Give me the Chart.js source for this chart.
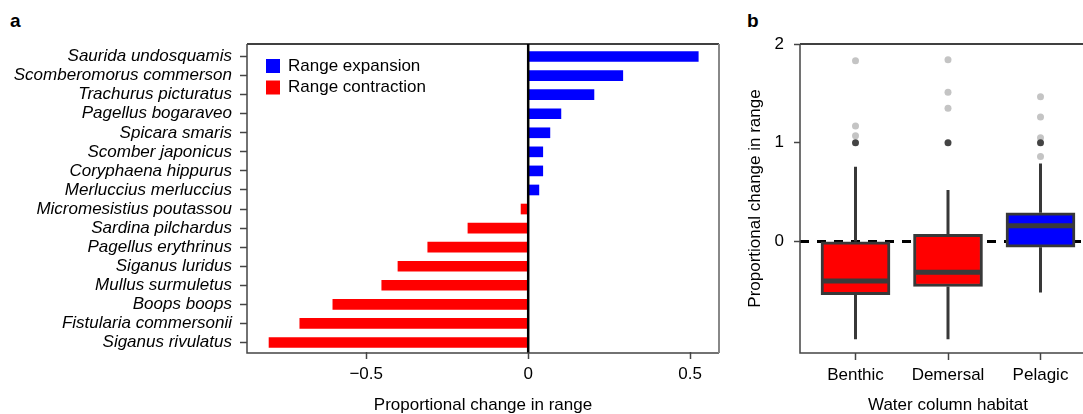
<!DOCTYPE html>
<html>
<head>
<meta charset="utf-8">
<script src="https://cdn.jsdelivr.net/npm/chart.js@4.4.0/dist/chart.umd.min.js"></script>
<style>
  html, body { margin: 0; padding: 0; background: #fff; overflow: hidden; }
  #wrap { position: relative; width: 1083px; height: 414px; overflow: hidden; font-family: "Liberation Sans", Arial, sans-serif; }
  #boxA { position: absolute; left: 0; top: 0; width: 730px; height: 414px; }
  #boxB { position: absolute; left: 740px; top: 0; width: 360px; height: 414px; }
  .tag { position: absolute; font-weight: bold; font-size: 19px; line-height: 19px; color: #000; }
</style>
</head>
<body>
<div id="wrap">
  <div class="tag" style="left:10px;top:11px">a</div>
  <div class="tag" style="left:747px;top:11px">b</div>
  <div id="boxA"><canvas id="chartA" width="730" height="414"></canvas></div>
  <div id="boxB"><canvas id="chartB" width="360" height="414"></canvas></div>
</div>
<script>
// ---- Panel a: proportional change in range per species ----
const species = [
  'Saurida undosquamis', 'Scomberomorus commerson', 'Trachurus picturatus',
  'Pagellus bogaraveo', 'Spicara smaris', 'Scomber japonicus',
  'Coryphaena hippurus', 'Merluccius merluccius', 'Micromesistius poutassou',
  'Sardina pilchardus', 'Pagellus erythrinus', 'Siganus luridus',
  'Mullus surmuletus', 'Boops boops', 'Fistularia commersonii', 'Siganus rivulatus'
];
const rangeChange = [0.525, 0.292, 0.203, 0.101, 0.067, 0.045, 0.045, 0.033,
  -0.022, -0.186, -0.31, -0.402, -0.452, -0.603, -0.705, -0.80];
const xTicksA = [-0.5, 0, 0.5];
const seriesNames = ['Range expansion', 'Range contraction'];
const seriesColors = ['#0000ff', '#ff0000'];

// ---- Panel b: box summaries by water column habitat ----
const habitats = ['Benthic', 'Demersal', 'Pelagic'];
const boxLower = [-0.54, -0.456, -0.058];
const boxMedian = [-0.40, -0.311, 0.158];
const boxUpper = [0.0, 0.071, 0.29];
const whiskerLow = [-0.99, -0.99, -0.517];
const whiskerHigh = [0.756, 0.52, 0.79];
const pointsLight = [[1.07, 1.17, 1.83], [1.35, 1.51, 1.84], [0.86, 1.05, 1.26, 1.465]];
const pointsDark = [[1.0], [1.0], [1.0]];
const boxFill = ['#ff0000', '#ff0000', '#0000ff'];
const yTicksB = [0, 1, 2];

Chart.defaults.font.family = '"Liberation Sans", Arial, sans-serif';
Chart.defaults.color = '#000';

const fmt = v => (v < 0 ? '\u2212' + Math.abs(v) : String(v));

const frameA = {
  id: 'frameA',
  afterDatasetsDraw(chart) {
    const { ctx, chartArea: a, scales } = chart;
    const top = a.top - 3, bottom = a.bottom + 1;
    ctx.save();
    // zero reference line
    const x0 = scales.x.getPixelForValue(0);
    ctx.strokeStyle = '#000'; ctx.lineWidth = 2.5;
    ctx.beginPath(); ctx.moveTo(x0, top); ctx.lineTo(x0, bottom); ctx.stroke();
    // plot frame
    ctx.lineWidth = 1.5; ctx.strokeStyle = '#000';
    ctx.beginPath(); ctx.moveTo(a.left, top); ctx.lineTo(a.right, top); ctx.stroke();
    ctx.strokeStyle = '#444';
    ctx.beginPath(); ctx.moveTo(a.left, top); ctx.lineTo(a.left, bottom); ctx.lineTo(a.right, bottom); ctx.stroke();
    ctx.strokeStyle = '#888'; ctx.lineWidth = 2;
    ctx.beginPath(); ctx.moveTo(a.right, top); ctx.lineTo(a.right, bottom); ctx.stroke();
    // legend
    ctx.font = '17px "Liberation Sans", Arial, sans-serif';
    ctx.textBaseline = 'middle'; ctx.textAlign = 'left';
    seriesNames.forEach((name, i) => {
      const cy = top + 22 + i * 21.5;
      ctx.fillStyle = seriesColors[i];
      ctx.fillRect(a.left + 19, cy - 7, 14, 14);
      ctx.fillStyle = '#000';
      ctx.fillText(name, a.left + 41, cy);
    });
    ctx.restore();
  }
};

new Chart(document.getElementById('chartA'), {
  type: 'bar',
  data: {
    labels: species,
    datasets: [
      { label: seriesNames[0], data: rangeChange.map(v => (v > 0 ? v : null)), backgroundColor: seriesColors[0] },
      { label: seriesNames[1], data: rangeChange.map(v => (v < 0 ? v : null)), backgroundColor: seriesColors[1] }
    ]
  },
  options: {
    indexAxis: 'y',
    responsive: false,
    animation: false,
    layout: { padding: { top: 47, right: 11, left: 0, bottom: 0 } },
    datasets: { bar: { grouped: false, barThickness: 10 } },
    plugins: { legend: { display: false }, tooltip: { enabled: false } },
    scales: {
      x: {
        type: 'linear', min: -0.868, max: 0.589,
        afterBuildTicks: s => { s.ticks = xTicksA.map(v => ({ value: v })); },
        ticks: { callback: v => fmt(v), font: { size: 17 }, color: '#000', padding: 5, maxRotation: 0, autoSkip: false },
        grid: { drawOnChartArea: false, drawTicks: true, tickLength: 7, tickColor: '#444', tickWidth: 1.5 },
        border: { display: false },
        title: { display: true, text: 'Proportional change in range', font: { size: 17, lineHeight: 1 }, color: '#000', padding: { top: 0, bottom: 0 } },
        afterFit: s => { s.height = 62; }
      },
      y: {
        ticks: { font: { size: 17, style: 'italic' }, color: '#000', padding: 8, autoSkip: false },
        grid: { offset: false, drawOnChartArea: false, drawTicks: true, tickLength: 7, tickColor: '#444', tickWidth: 1.5 },
        border: { display: false },
        afterFit: s => { s.width = 247; }
      }
    }
  },
  plugins: [frameA]
});

const boxParts = {
  id: 'boxParts',
  beforeDatasetsDraw(chart) {
    const { ctx, chartArea: a, scales } = chart;
    const y0 = scales.y.getPixelForValue(0);
    ctx.save();
    // dashed zero line behind the boxes
    ctx.strokeStyle = '#000'; ctx.lineWidth = 3; ctx.setLineDash([9, 8]);
    ctx.beginPath(); ctx.moveTo(a.left, y0); ctx.lineTo(a.right, y0); ctx.stroke();
    ctx.setLineDash([]);
    // whiskers
    ctx.strokeStyle = '#383838'; ctx.lineWidth = 3;
    habitats.forEach((h, i) => {
      const x = scales.x.getPixelForValue(i + 1);
      ctx.beginPath();
      ctx.moveTo(x, scales.y.getPixelForValue(whiskerHigh[i]));
      ctx.lineTo(x, scales.y.getPixelForValue(boxUpper[i]));
      ctx.moveTo(x, scales.y.getPixelForValue(boxLower[i]));
      ctx.lineTo(x, scales.y.getPixelForValue(whiskerLow[i]));
      ctx.stroke();
    });
    ctx.restore();
  },
  afterDatasetsDraw(chart) {
    const { ctx, chartArea: a, scales } = chart;
    const meta = chart.getDatasetMeta(0);
    ctx.save();
    // medians
    ctx.strokeStyle = '#3a3a3a'; ctx.lineWidth = 5;
    habitats.forEach((h, i) => {
      const bar = meta.data[i];
      const half = bar.width / 2;
      const y = scales.y.getPixelForValue(boxMedian[i]);
      ctx.beginPath(); ctx.moveTo(bar.x - half + 1.5, y); ctx.lineTo(bar.x + half - 1.5, y); ctx.stroke();
    });
    // frame
    ctx.lineWidth = 1.5; ctx.strokeStyle = '#000';
    ctx.beginPath(); ctx.moveTo(a.left, a.top); ctx.lineTo(a.right, a.top); ctx.stroke();
    ctx.strokeStyle = '#444';
    ctx.beginPath(); ctx.moveTo(a.left, a.top); ctx.lineTo(a.left, a.bottom); ctx.lineTo(a.right, a.bottom); ctx.stroke();
    ctx.restore();
  }
};

new Chart(document.getElementById('chartB'), {
  type: 'bar',
  data: {
    datasets: [
      {
        type: 'bar', order: 2,
        data: habitats.map((h, i) => ({ x: i + 1, y: [boxLower[i], boxUpper[i]] })),
        backgroundColor: boxFill, borderColor: '#383838', borderWidth: 3, borderSkipped: false, barThickness: 69
      },
      {
        type: 'scatter', order: 1,
        data: pointsLight.flatMap((arr, i) => arr.map(v => ({ x: i + 1, y: v }))),
        backgroundColor: '#c4c4c4', borderWidth: 0, pointRadius: 3.5
      },
      {
        type: 'scatter', order: 0,
        data: pointsDark.flatMap((arr, i) => arr.map(v => ({ x: i + 1, y: v }))),
        backgroundColor: '#444', borderWidth: 0, pointRadius: 3.5
      }
    ]
  },
  options: {
    responsive: false,
    animation: false,
    layout: { padding: { top: 44, right: 4, left: 0, bottom: 0 } },
    plugins: { legend: { display: false }, tooltip: { enabled: false } },
    scales: {
      x: {
        type: 'linear', min: 0.4, max: 3.6, offset: false,
        afterBuildTicks: s => { s.ticks = habitats.map((h, i) => ({ value: i + 1 })); },
        ticks: { callback: v => habitats[v - 1], font: { size: 17 }, color: '#000', padding: 5, maxRotation: 0, autoSkip: false },
        grid: { offset: false, drawOnChartArea: false, drawTicks: true, tickLength: 7, tickColor: '#444', tickWidth: 1.5 },
        border: { display: false },
        title: { display: true, text: 'Water column habitat', font: { size: 17, lineHeight: 1 }, color: '#000', padding: { top: 0, bottom: 0 } },
        afterFit: s => { s.height = 61; }
      },
      y: {
        type: 'linear', min: -1.13, max: 2,
        afterBuildTicks: s => { s.ticks = yTicksB.map(v => ({ value: v })); },
        ticks: { callback: v => String(v), font: { size: 17 }, color: '#000', padding: 10 },
        grid: { drawOnChartArea: false, drawTicks: true, tickLength: 6, tickColor: '#444', tickWidth: 1.5 },
        border: { display: false },
        title: { display: true, text: 'Proportional change in range', font: { size: 17 }, color: '#000', padding: { top: 5, bottom: 0 } },
        afterFit: s => { s.width = 60; }
      }
    }
  },
  plugins: [boxParts]
});
</script>
</body>
</html>
